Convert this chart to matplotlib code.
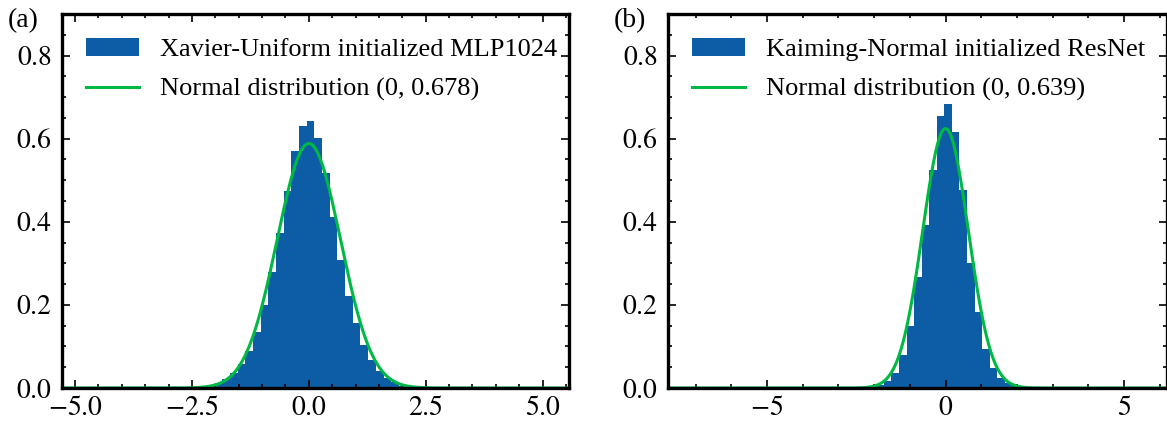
import numpy as np
import matplotlib
matplotlib.use("Agg")
import matplotlib.pyplot as plt
from matplotlib.ticker import AutoMinorLocator, MultipleLocator, FuncFormatter

# panel (a): Xavier-Uniform MLP1024, density histogram
a_first_edge = -2.51
a_bin_width = 0.1643
a_heights = [0.001, 0.003, 0.006, 0.011, 0.021, 0.036, 0.057, 0.088, 0.134, 0.199,
             0.279, 0.372, 0.473, 0.570, 0.630, 0.642, 0.602, 0.517, 0.411, 0.309,
             0.221, 0.156, 0.103, 0.068, 0.040, 0.024, 0.014, 0.006, 0.003, 0.001]
a_sigma = 0.678
a_xlim = (-5.28, 5.565)
a_label = "Xavier-Uniform initialized MLP1024"

# panel (b): Kaiming-Normal ResNet
b_first_edge = -2.363
b_bin_width = 0.2117
b_heights = [0.001, 0.003, 0.008, 0.017, 0.036, 0.079, 0.148, 0.266, 0.392, 0.524,
             0.654, 0.684, 0.615, 0.476, 0.301, 0.183, 0.094, 0.047, 0.023, 0.011,
             0.006, 0.003, 0.001]
b_sigma = 0.639
b_xlim = (-7.77, 6.2)
b_label = "Kaiming-Normal initialized ResNet"

blue = "#0C5DA5"
green = "#00B945"

plt.rcParams["font.family"] = ["Liberation Serif", "DejaVu Serif"]
plt.rcParams["mathtext.fontset"] = "stix"
plt.rcParams["font.size"] = 20
plt.rcParams["axes.linewidth"] = 2.4

fig = plt.figure(figsize=(11.67, 4.21), dpi=100)
W, H = 1167, 421
ax_a = fig.add_axes([62 / W, 1 - 388 / H, (569 - 62) / W, (388 - 14) / H])
ax_b = fig.add_axes([668 / W, 1 - 388 / H, (1167 - 668) / W, (388 - 14) / H])


def math_fmt(decimals):
    return FuncFormatter(lambda v, pos: "$%.*f$" % (decimals, v))


def draw(ax, first, width, heights, sigma, xlim, label, xmajor, xdec):
    lefts = first + width * np.arange(len(heights))
    ax.bar(lefts, heights, width=width, align="edge", color=blue, linewidth=0, label=label)
    x = np.linspace(xlim[0], xlim[1], 800)
    pdf = np.exp(-0.5 * (x / sigma) ** 2) / (sigma * np.sqrt(2 * np.pi))
    ax.plot(x, pdf, color=green, lw=2.2, label=f"Normal distribution (0, {sigma})")
    ax.set_xlim(*xlim)
    ax.set_ylim(0, 0.9)
    ax.xaxis.set_major_locator(MultipleLocator(xmajor))
    ax.yaxis.set_major_locator(MultipleLocator(0.2))
    ax.xaxis.set_major_formatter(math_fmt(xdec))
    ax.yaxis.set_major_formatter(math_fmt(1))
    ax.xaxis.set_minor_locator(AutoMinorLocator())
    ax.yaxis.set_minor_locator(AutoMinorLocator())
    ax.tick_params(which="both", direction="in", top=True, right=True, width=1.2)
    ax.tick_params(which="major", length=5.5)
    ax.tick_params(which="minor", length=2.8)
    ax.tick_params(axis="x", pad=6)
    ax.tick_params(axis="y", pad=7)
    h, l = ax.get_legend_handles_labels()
    ax.legend(h[::-1], l[::-1], loc="upper left", frameon=False, fontsize=19,
              labelspacing=0.62)


draw(ax_a, a_first_edge, a_bin_width, a_heights, a_sigma, a_xlim, a_label, 2.5, 1)
draw(ax_b, b_first_edge, b_bin_width, b_heights, b_sigma, b_xlim, b_label, 5, 0)

fig.text(8 / W, 1 - 8 / H, "(a)", ha="left", va="top")
fig.text(614 / W, 1 - 8 / H, "(b)", ha="left", va="top")

fig.savefig("out.png", dpi=100)
